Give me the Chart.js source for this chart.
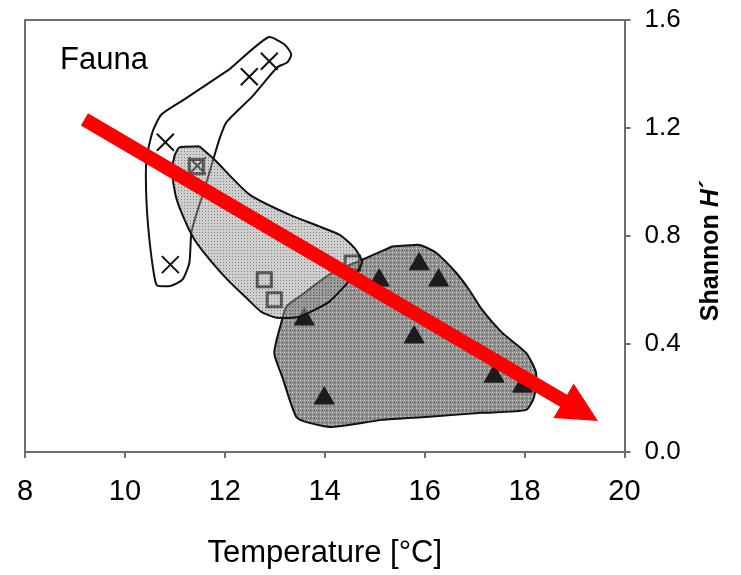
<!DOCTYPE html>
<html>
<head>
<meta charset="utf-8">
<script src="https://cdn.jsdelivr.net/npm/chart.js@4/dist/chart.umd.min.js"></script>
<style>
  html, body { margin: 0; padding: 0; background: #fff; }
  #chart { display: block; }
</style>
</head>
<body>
<canvas id="chart" width="741" height="575"></canvas>
<script>
// Messpunkte: Temperatur [°C] und Shannon-Index H'
const crossTemp = [10.81, 10.91, 11.45, 12.49, 12.89];
const crossH = [1.147, 0.694, 1.06, 1.39, 1.447];

const squareTemp = [11.43, 12.79, 12.99, 14.55];
const squareH = [1.057, 0.638, 0.564, 0.70];

const triangleTemp = [13.59, 13.99, 15.09, 15.79, 15.89, 16.28, 17.39, 17.96];
const triangleH = [0.492, 0.199, 0.636, 0.425, 0.696, 0.636, 0.280, 0.243];

// Umrisse der Gruppen (Temperatur / H')
const crossHullTemp = [12.09, 12.87, 13.19, 13.33, 13.25, 13.05, 12.55, 12.03, 11.89, 11.77, 11.59, 11.43, 11.33,
    11.29, 11.15, 10.93, 10.65, 10.59, 10.49, 10.43, 10.43, 10.55, 10.73, 11.19];
const crossHullH = [1.417, 1.536, 1.510, 1.473, 1.443, 1.425, 1.317, 1.221, 1.158, 1.084, 0.972, 0.880, 0.813,
    0.701, 0.638, 0.616, 0.616, 0.649, 0.787, 0.935, 1.083, 1.184, 1.250, 1.306];

const squareHullTemp = [11.49, 11.79, 12.49, 13.29, 14.29, 14.59, 14.75, 14.65, 14.09, 13.49, 13.05, 12.73, 12.43,
    12.09, 11.73, 11.39, 11.15, 11.01, 10.95, 10.99, 11.09];
const squareHullH = [1.132, 1.083, 0.954, 0.879, 0.805, 0.757, 0.705, 0.668, 0.557, 0.501, 0.497, 0.519, 0.571,
    0.631, 0.705, 0.787, 0.879, 0.954, 1.039, 1.095, 1.128];

const triangleHullTemp = [15.35, 15.85, 15.95, 16.23, 16.63, 16.89, 17.15, 17.55, 18.03, 18.23, 18.19, 18.03, 17.15,
    16.03, 15.15, 14.15, 13.69, 13.43, 13.15, 12.99, 13.13, 13.23, 13.49, 14.15, 14.75];
const triangleHullH = [0.761, 0.768, 0.764, 0.738, 0.664, 0.601, 0.527, 0.442, 0.367, 0.293, 0.204, 0.156, 0.145,
    0.130, 0.119, 0.093, 0.108, 0.130, 0.278, 0.367, 0.479, 0.538, 0.575, 0.664, 0.712];

// Trendpfeil (Start und Spitze)
const arrowFrom = [9.19, 1.232];
const arrowTo = [19.47, 0.115];

// Achsen
const xTickValues = [8, 10, 12, 14, 16, 18, 20];
const yTickValues = [0, 0.4, 0.8, 1.2, 1.6];

const axisColor = '#6e6e6e';

function toPoints(xs, ys) {
    return xs.map((x, i) => ({ x: x, y: ys[i] }));
}

// Geschlossener Umriss: erster Punkt wird am Ende wiederholt
function toClosedPoints(xs, ys) {
    const pts = toPoints(xs, ys);
    pts.push({ x: xs[0], y: ys[0] });
    return pts;
}

// Rastermuster für die Flächenfüllung
function makePattern(size, base, dots) {
    const tile = document.createElement('canvas');
    tile.width = size;
    tile.height = size;
    const tctx = tile.getContext('2d');
    tctx.fillStyle = base;
    tctx.fillRect(0, 0, size, size);
    dots.forEach(d => {
        tctx.clearRect(d[0], d[1], 1, 1);
        tctx.fillStyle = d[2];
        tctx.fillRect(d[0], d[1], 1, 1);
    });
    return document.getElementById('chart').getContext('2d').createPattern(tile, 'repeat');
}

const lightFill = makePattern(3, 'rgba(160,160,160,0.5)', [[1, 1, 'rgba(60,60,60,0.65)']]);
const darkFill = makePattern(4, '#8e8e8e', [[0, 0, '#dcdcdc'], [2, 2, '#4e4e4e'], [2, 0, '#a8a8a8'], [0, 2, '#a8a8a8']]);

// Rahmen oben und links um die Zeichenfläche
const framePlugin = {
    id: 'frame',
    beforeDatasetsDraw(chart) {
        const { ctx, chartArea } = chart;
        ctx.save();
        ctx.strokeStyle = axisColor;
        ctx.lineWidth = 2;
        ctx.beginPath();
        ctx.moveTo(chartArea.left, chartArea.bottom);
        ctx.lineTo(chartArea.left, chartArea.top);
        ctx.lineTo(chartArea.right, chartArea.top);
        ctx.stroke();
        ctx.restore();
    }
};

// Roter Pfeil über allen Datensätzen
const arrowPlugin = {
    id: 'trendArrow',
    afterDatasetsDraw(chart) {
        const { ctx, scales } = chart;
        const x1 = scales.x.getPixelForValue(arrowFrom[0]);
        const y1 = scales.y.getPixelForValue(arrowFrom[1]);
        const x2 = scales.x.getPixelForValue(arrowTo[0]);
        const y2 = scales.y.getPixelForValue(arrowTo[1]);
        const angle = Math.atan2(y2 - y1, x2 - x1);
        const headLen = 40;
        const headHalf = 20;
        const bx = x2 - Math.cos(angle) * headLen;
        const by = y2 - Math.sin(angle) * headLen;

        ctx.save();
        ctx.strokeStyle = '#ff0000';
        ctx.fillStyle = '#ff0000';
        ctx.lineWidth = 14;
        ctx.lineCap = 'butt';
        ctx.beginPath();
        ctx.moveTo(x1, y1);
        ctx.lineTo(bx + Math.cos(angle) * 2, by + Math.sin(angle) * 2);
        ctx.stroke();

        ctx.beginPath();
        ctx.moveTo(x2, y2);
        ctx.lineTo(bx + Math.sin(angle) * headHalf, by - Math.cos(angle) * headHalf);
        ctx.lineTo(bx - Math.sin(angle) * headHalf, by + Math.cos(angle) * headHalf);
        ctx.closePath();
        ctx.fill();
        ctx.restore();
    }
};

// Beschriftungen: "Fauna" und Titel der y-Achse (von unten nach oben)
const labelPlugin = {
    id: 'labels',
    afterDraw(chart) {
        const { ctx } = chart;
        ctx.save();
        ctx.fillStyle = '#000';
        ctx.font = '31px "Liberation Sans", Arial, sans-serif';
        ctx.textBaseline = 'alphabetic';
        ctx.textAlign = 'left';
        ctx.fillText('Fauna', 60, 69);

        ctx.translate(718, 251);
        ctx.rotate(-Math.PI / 2);
        const part1 = 'Shannon ';
        const part2 = 'H';
        const part3 = '\u00B4';
        ctx.font = 'bold 25px "Liberation Sans", Arial, sans-serif';
        const w1 = ctx.measureText(part1).width;
        const w3 = ctx.measureText(part3).width;
        ctx.font = 'italic bold 25px "Liberation Sans", Arial, sans-serif';
        const w2 = ctx.measureText(part2).width;
        let x = -(w1 + w2 + w3) / 2;
        ctx.font = 'bold 25px "Liberation Sans", Arial, sans-serif';
        ctx.fillText(part1, x, 0);
        x += w1;
        ctx.font = 'italic bold 25px "Liberation Sans", Arial, sans-serif';
        ctx.fillText(part2, x, 0);
        x += w2;
        ctx.font = 'bold 25px "Liberation Sans", Arial, sans-serif';
        ctx.fillText(part3, x + 1, 0);
        ctx.restore();
    }
};

const hullLine = {
    type: 'line',
    showLine: true,
    pointRadius: 0,
    pointHoverRadius: 0,
    borderColor: '#111',
    borderWidth: 2,
    tension: 0.2
};

new Chart(document.getElementById('chart'), {
    type: 'scatter',
    data: {
        datasets: [
            {
                ...hullLine,
                label: 'Umriss Quadrate',
                data: toClosedPoints(squareHullTemp, squareHullH),
                fill: 'shape',
                backgroundColor: lightFill,
                order: 1
            },
            {
                label: 'Quadrate',
                data: toPoints(squareTemp, squareH),
                pointStyle: 'rect',
                pointRadius: 10,
                backgroundColor: 'rgba(0,0,0,0)',
                borderColor: '#1a1a1a',
                borderWidth: 3,
                order: 2
            },
            {
                label: 'Kreuze',
                data: toPoints(crossTemp, crossH),
                pointStyle: 'crossRot',
                pointRadius: 12,
                borderColor: '#111',
                borderWidth: 2,
                order: 3
            },
            {
                ...hullLine,
                label: 'Umriss Kreuze',
                data: toClosedPoints(crossHullTemp, crossHullH),
                fill: false,
                order: 4
            },
            {
                label: 'Dreiecke',
                data: toPoints(triangleTemp, triangleH),
                pointStyle: 'triangle',
                pointRadius: 11.5,
                backgroundColor: '#1c1c1c',
                borderColor: '#1c1c1c',
                borderWidth: 1,
                order: 5
            },
            {
                ...hullLine,
                label: 'Umriss Dreiecke',
                data: toClosedPoints(triangleHullTemp, triangleHullH),
                fill: 'shape',
                backgroundColor: darkFill,
                order: 6
            }
        ]
    },
    options: {
        responsive: false,
        animation: false,
        devicePixelRatio: 1,
        layout: { padding: { left: 25, top: 20, right: 0, bottom: 0 } },
        plugins: {
            legend: { display: false },
            tooltip: { enabled: false }
        },
        scales: {
            x: {
                type: 'linear',
                min: 8,
                max: 20,
                afterBuildTicks: s => { s.ticks = xTickValues.map(v => ({ value: v })); },
                afterFit: s => {
                    s.height = 123;
                    s.paddingLeft = 0;
                    s.paddingRight = 0;
                },
                grid: { display: true, drawOnChartArea: false, drawTicks: true, tickLength: 6, color: axisColor, lineWidth: 2 },
                border: { display: true, color: axisColor, width: 2 },
                ticks: {
                    color: '#000',
                    padding: 17,
                    maxRotation: 0,
                    font: { family: '"Liberation Sans", Arial, sans-serif', size: 29 },
                    callback: v => String(v)
                },
                title: {
                    display: true,
                    text: 'Temperature [°C]',
                    color: '#000',
                    font: { family: '"Liberation Sans", Arial, sans-serif', size: 31 },
                    padding: { top: 0, bottom: 3 }
                }
            },
            y: {
                type: 'linear',
                position: 'right',
                min: 0,
                max: 1.6,
                afterBuildTicks: s => { s.ticks = yTickValues.map(v => ({ value: v })); },
                afterFit: s => {
                    s.width = 116.5;
                    s.paddingTop = 0;
                    s.paddingBottom = 0;
                },
                grid: { display: true, drawOnChartArea: false, drawTicks: true, tickLength: 6, color: axisColor, lineWidth: 2 },
                border: { display: true, color: axisColor, width: 2 },
                ticks: {
                    color: '#000',
                    padding: 14,
                    font: { family: '"Liberation Sans", Arial, sans-serif', size: 26 },
                    callback: v => v.toFixed(1)
                }
            }
        }
    },
    plugins: [framePlugin, arrowPlugin, labelPlugin]
});
</script>
</body>
</html>
